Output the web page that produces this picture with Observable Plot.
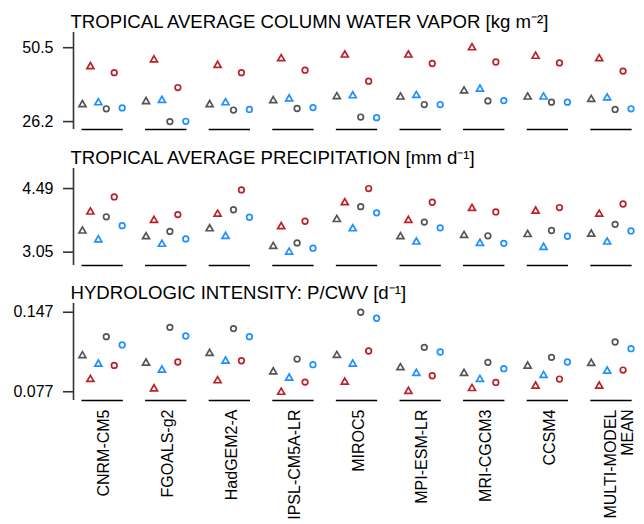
<!DOCTYPE html>
<html>
<head>
<meta charset="utf-8">
<script src="https://cdn.jsdelivr.net/npm/d3@7"></script>
<script src="https://cdn.jsdelivr.net/npm/@observablehq/plot@0.6"></script>
<style>
  body { margin: 0; background: #fff; }
  #chart { width: 644px; }
</style>
</head>
<body>
<div id="chart"></div>
<script>
const models = ["CNRM-CM5", "FGOALS-g2", "HadGEM2-A", "IPSL-CM5A-LR", "MIROC5", "MPI-ESM-LR", "MRI-CGCM3", "CCSM4", "MULTI-MODEL\nMEAN"];

// column water vapor [kg m-2]
const cwvGreyTri  = [31.8, 32.8, 31.8, 33.1, 34.4, 34.3, 36.3, 34.3, 33.5];
const cwvRedTri   = [44.3, 46.5, 44.7, 46.9, 48.1, 48.1, 50.5, 47.7, 46.9];
const cwvBlueTri  = [32.4, 33.2, 32.4, 33.7, 34.7, 34.8, 36.9, 34.3, 34.0];
const cwvGreyCirc = [30.4, 26.2, 30.0, 30.5, 27.7, 31.8, 33.0, 32.6, 30.2];
const cwvRedCirc  = [42.3, 37.4, 42.3, 43.1, 39.5, 45.3, 45.8, 45.5, 42.8];
const cwvBlueCirc = [30.7, 26.3, 30.2, 30.8, 27.5, 31.8, 33.1, 32.6, 30.4];
const cwvTicks = [26.2, 50.5];

// precipitation [mm d-1]
const prGreyTri  = [3.53, 3.40, 3.58, 3.18, 3.79, 3.40, 3.43, 3.45, 3.46];
const prRedTri   = [3.96, 3.77, 3.91, 3.63, 4.17, 3.77, 4.04, 3.98, 3.91];
const prBlueTri  = [3.33, 3.23, 3.41, 3.05, 3.58, 3.28, 3.25, 3.16, 3.28];
const prGreyCirc = [3.85, 3.52, 4.01, 3.26, 4.08, 3.73, 3.42, 3.54, 3.68];
const prRedCirc  = [4.30, 3.90, 4.46, 3.75, 4.49, 4.18, 3.96, 4.06, 4.14];
const prBlueCirc = [3.65, 3.35, 3.84, 3.14, 3.94, 3.60, 3.25, 3.41, 3.53];
const prTicks = [3.05, 4.49];

// hydrologic intensity P/CWV [d-1]
const hiGreyTri  = [0.1088, 0.1023, 0.1108, 0.0946, 0.1090, 0.0982, 0.0932, 0.0996, 0.1020];
const hiRedTri   = [0.0879, 0.0796, 0.0867, 0.0766, 0.0855, 0.0774, 0.0799, 0.0820, 0.0820];
const hiBlueTri  = [0.1014, 0.0961, 0.1040, 0.0891, 0.1014, 0.0932, 0.0879, 0.0914, 0.0952];
const hiGreyCirc = [0.1255, 0.1337, 0.1326, 0.1058, 0.1470, 0.1161, 0.1029, 0.1073, 0.1208];
const hiRedCirc  = [0.1002, 0.1032, 0.1043, 0.0855, 0.1129, 0.0911, 0.0852, 0.0882, 0.0961];
const hiBlueCirc = [0.1182, 0.1261, 0.1255, 0.1008, 0.1417, 0.1120, 0.0973, 0.1032, 0.1149];
const hiTicks = [0.077, 0.147];

const grey = "#555555", red = "#bb2129", blue = "#1e90ff";
const xDomain = [-0.453, 8.446];
const font = "'Liberation Sans', Arial, sans-serif";

function panel({title, series, ticks, domain, height, marginTop, marginBottom, labels}) {
  // slot order within each model: grey/red/blue triangles, then grey/red/blue circles
  const styles = [[grey, "triangle", 2.6], [red, "triangle", 2.6], [blue, "triangle", 2.6],
                  [grey, "circle", 2.8], [red, "circle", 2.8], [blue, "circle", 2.8]];
  const dots = series.map((values, k) => Plot.dot(values, {
    x: (d, i) => i + (k - 2.5) * 0.125,
    y: d => d,
    symbol: styles[k][1],
    stroke: styles[k][0],
    fill: "none",
    r: styles[k][2],
    strokeWidth: 1.7
  }));

  const marks = [
    Plot.ruleX([xDomain[0]], {stroke: "#333", strokeWidth: 1.6}),
    Plot.axisY({ticks, tickSize: 10, tickPadding: 10, tickFormat: String, stroke: "#333", strokeWidth: 1.6, fontSize: 16, label: null}),
    Plot.ruleY(models, {x1: (d, i) => i - 0.32, x2: (d, i) => i + 0.33, y: domain[0], stroke: "black", strokeWidth: 1.5}),
    ...dots,
    Plot.text([title], {text: d => d, frameAnchor: "top-left", textAnchor: "start", lineAnchor: "bottom", dx: -3, dy: -5, fontSize: 18.6})
  ];

  if (labels) {
    marks.push(
      Plot.text(models, {filter: d => !d.includes("\n"), x: (d, i) => i, frameAnchor: "bottom", rotate: -90, textAnchor: "end", dx: 7, dy: 9, fontSize: 16}),
      Plot.text(models, {filter: d => d.includes("\n"), x: (d, i) => i, frameAnchor: "bottom", rotate: -90, textAnchor: "end", dx: 22, dy: 9, lineHeight: 1.06, fontSize: 16})
    );
  }

  return Plot.plot({
    width: 644,
    height,
    marginLeft: 73,
    marginRight: 5,
    marginTop,
    marginBottom,
    style: {fontFamily: font, fontSize: "16px", color: "black", background: "white"},
    x: {domain: xDomain, axis: null},
    y: {domain, axis: null},
    marks
  });
}

const chart = document.querySelector("#chart");

chart.append(panel({
  title: "TROPICAL AVERAGE COLUMN WATER VAPOR [kg m⁻²]",
  series: [cwvGreyTri, cwvRedTri, cwvBlueTri, cwvGreyCirc, cwvRedCirc, cwvBlueCirc],
  ticks: cwvTicks,
  domain: [23.6, 55.5],
  height: 140, marginTop: 32, marginBottom: 11
}));

chart.append(panel({
  title: "TROPICAL AVERAGE PRECIPITATION [mm d⁻¹]",
  series: [prGreyTri, prRedTri, prBlueTri, prGreyCirc, prRedCirc, prBlueCirc],
  ticks: prTicks,
  domain: [2.748, 4.944],
  height: 138, marginTop: 28, marginBottom: 13
}));

chart.append(panel({
  title: "HYDROLOGIC INTENSITY: P/CWV [d⁻¹]",
  series: [hiGreyTri, hiRedTri, hiBlueTri, hiGreyCirc, hiRedCirc, hiBlueCirc],
  ticks: hiTicks,
  domain: [0.0693, 0.1547],
  height: 246, marginTop: 25, marginBottom: 124,
  labels: true
}));
</script>
</body>
</html>
